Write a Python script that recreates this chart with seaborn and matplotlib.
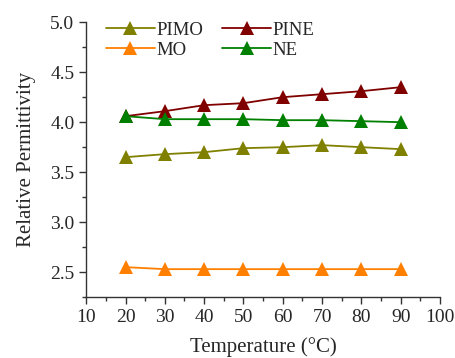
import numpy as np
import pandas as pd
import matplotlib
matplotlib.use("Agg")
import matplotlib.pyplot as plt
import seaborn as sns
from matplotlib.ticker import MultipleLocator

# data
temps = [20, 30, 40, 50, 60, 70, 80, 90]
pimo = [3.65, 3.68, 3.70, 3.74, 3.75, 3.77, 3.75, 3.73]
pine = [4.06, 4.11, 4.17, 4.19, 4.25, 4.28, 4.31, 4.35]
mo = [2.55, 2.53, 2.53, 2.53, 2.53, 2.53, 2.53, 2.53]
ne = [4.06, 4.03, 4.03, 4.03, 4.02, 4.02, 4.01, 4.00]
names = ["PIMO", "PINE", "MO", "NE"]
colors = ["#808000", "#800000", "#FF8000", "#008000"]

df = pd.DataFrame({"T": temps * 4,
                   "eps": pimo + pine + mo + ne,
                   "sample": sum([[n] * len(temps) for n in names], [])})

sns.set_style("ticks")
plt.rcParams["font.family"] = ["Liberation Serif", "DejaVu Serif"]

fig = plt.figure(figsize=(4.56, 3.58), dpi=100)
ax = fig.add_axes([0.189, 0.170, 0.776, 0.768])
sns.lineplot(data=df, x="T", y="eps", hue="sample", hue_order=names,
             palette=colors, marker="^", markersize=10, markeredgewidth=0,
             linewidth=1.3, ax=ax)

ax.set_xlim(10, 100)
ax.set_ylim(2.25, 5.0)
ax.xaxis.set_major_locator(MultipleLocator(10))
ax.xaxis.set_minor_locator(MultipleLocator(5))
ax.yaxis.set_major_locator(MultipleLocator(0.5))
ax.yaxis.set_minor_locator(MultipleLocator(0.25))
ax.tick_params(which="major", length=5, width=1, labelsize=14, direction="out",
               color="#333333")
ax.tick_params(which="minor", length=3, width=1, direction="out", color="#333333")
ax.set_xlabel("Temperature (°C)", fontsize=15, labelpad=8)
ax.set_ylabel("Relative Permittivity", fontsize=15, labelpad=10)
for s in ["top", "right"]:
    ax.spines[s].set_visible(False)
for s in ["left", "bottom"]:
    ax.spines[s].set_linewidth(1)
    ax.spines[s].set_color("#333333")

# row-wise legend: PIMO PINE / MO NE
h, l = ax.get_legend_handles_labels()
idx = {lab: i for i, lab in enumerate(l)}
order = ["PIMO", "MO", "PINE", "NE"]
ax.legend([h[idx[o]] for o in order], order, title=None, ncol=2,
          frameon=False, loc="upper left", fontsize=13.5, handlelength=2.6,
          handletextpad=0.1, columnspacing=1.0, labelspacing=0.15,
          borderaxespad=0.0, bbox_to_anchor=(0.035, 1.03))

fig.savefig("out.png", dpi=100)
